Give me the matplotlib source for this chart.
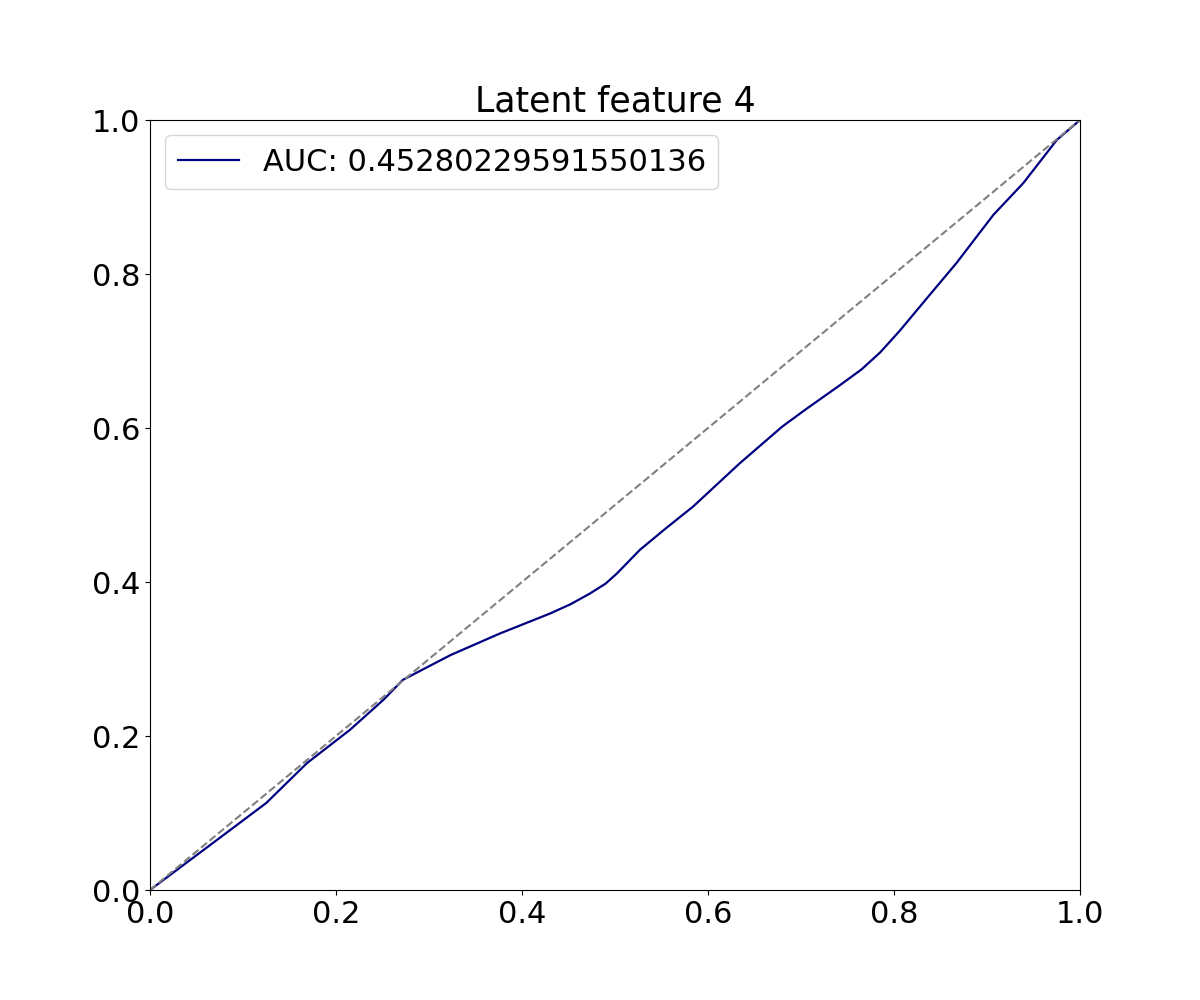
import matplotlib
matplotlib.use("Agg")
import matplotlib.pyplot as plt

# ROC curve points
fpr = [0.0, 0.072, 0.125, 0.169, 0.215, 0.251, 0.272, 0.323, 0.376, 0.430,
       0.452, 0.473, 0.490, 0.502, 0.527, 0.555, 0.584, 0.634, 0.680, 0.706,
       0.740, 0.765, 0.785, 0.806, 0.835, 0.867, 0.907, 0.939, 0.975, 1.0]
tpr = [0.0, 0.065, 0.113, 0.165, 0.208, 0.247, 0.273, 0.305, 0.333, 0.359,
       0.371, 0.385, 0.398, 0.411, 0.442, 0.470, 0.498, 0.554, 0.602, 0.625,
       0.654, 0.676, 0.698, 0.726, 0.768, 0.814, 0.877, 0.918, 0.974, 1.0]
auc = 0.45280229591550136
title = "Latent feature 4"

plt.rcParams["font.size"] = 22

fig = plt.figure(figsize=(12, 10), dpi=100)
plt.plot(fpr, tpr, color="navy", lw=1.6, label=f"AUC: {auc}")
plt.plot([0, 1], [0, 1], color="gray", linestyle="--", lw=1.5)
plt.xlim(0, 1)
plt.ylim(0, 1)
plt.title(title, fontsize=25)
plt.legend(loc="upper left")
plt.savefig("out.png")
